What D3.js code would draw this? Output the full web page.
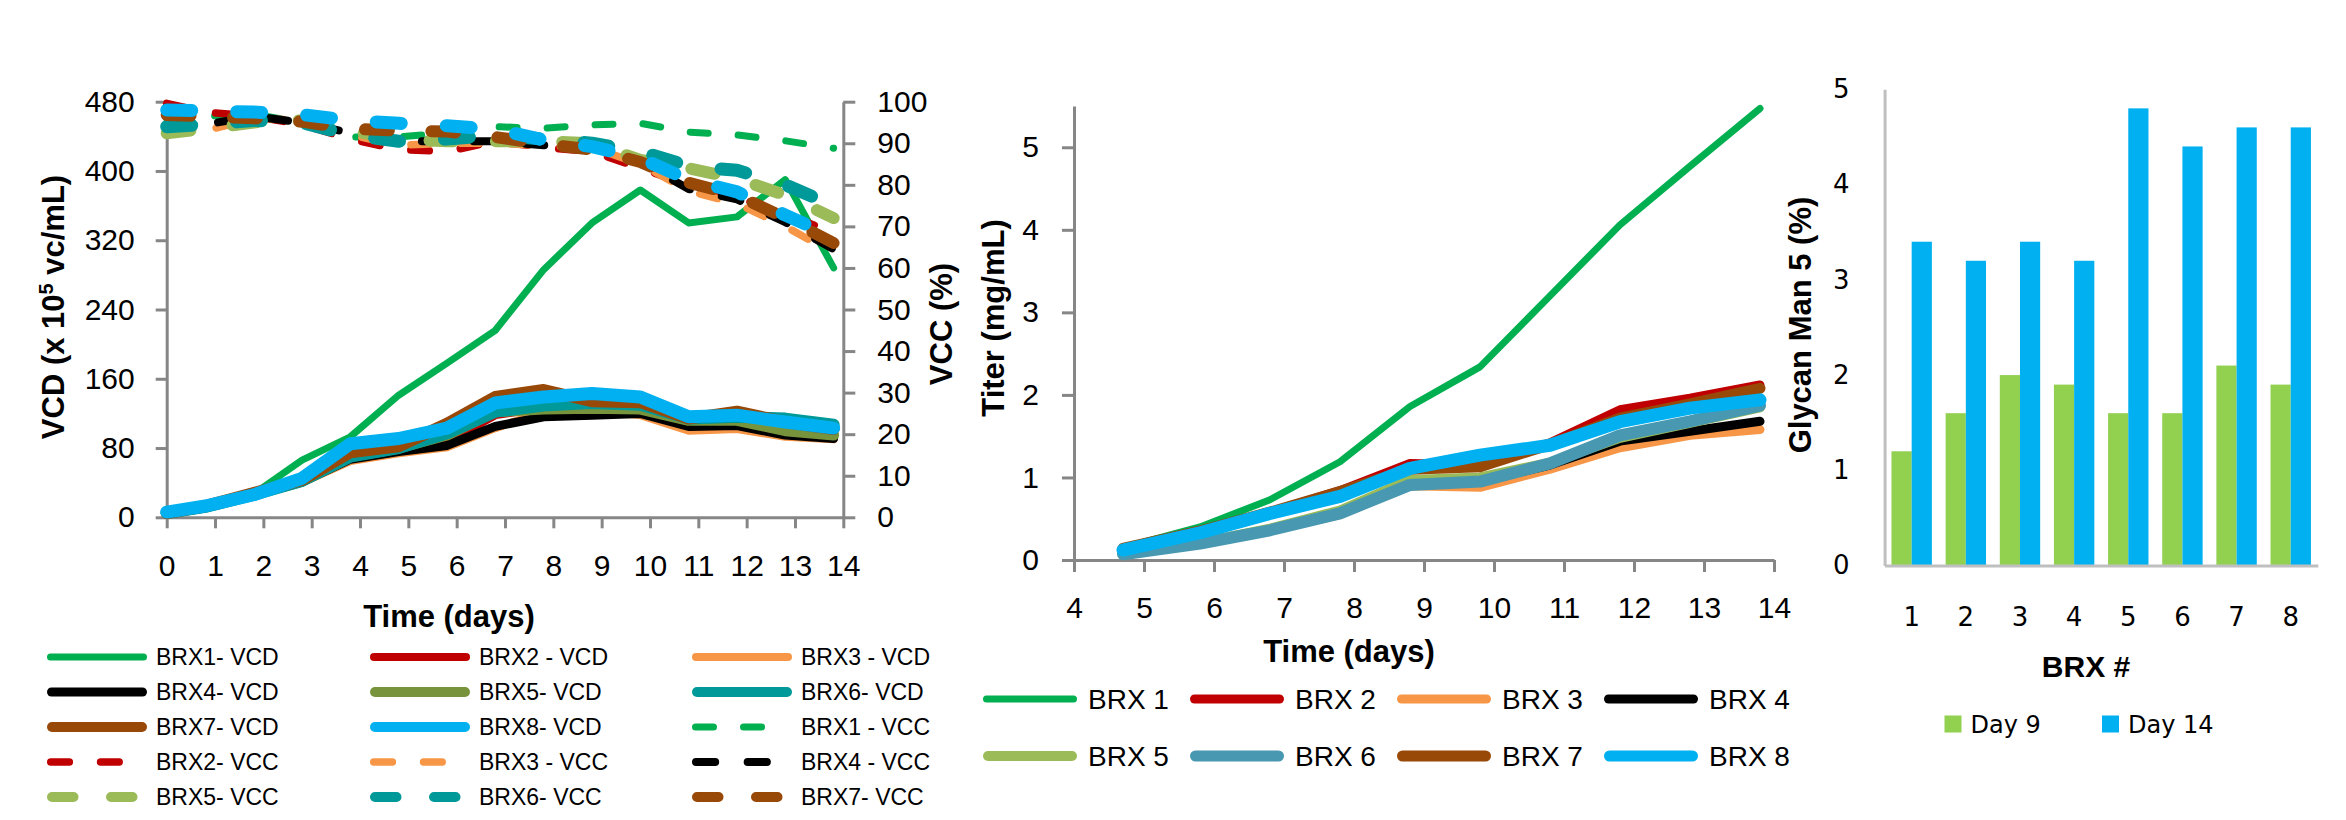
<!DOCTYPE html>
<html><head><meta charset="utf-8">
<script src="https://cdn.jsdelivr.net/npm/d3@7"></script>
<style>body{margin:0;background:#fff}svg{display:block}</style>
</head><body>
<svg id="c" width="2346" height="820"></svg>
<script>
// ---------- DATA ----------
const days = [0, 0.8, 1.8, 2.8, 3.8, 4.8, 5.8, 6.8, 7.8, 8.8, 9.8, 10.8, 11.8, 12.8, 13.8];
const vcd1 = [5, 12, 27, 66, 93, 141, 178, 216, 286, 340, 378, 340, 347, 390, 288];
const vcd2 = [5, 12, 26, 42, 70, 78, 87, 118, 126, 130, 130, 110, 116, 104, 99];
const vcd3 = [4, 11, 25, 40, 65, 74, 81, 103, 122, 122, 118, 100, 102, 93, 90];
const vcd4 = [4, 11, 25, 41, 67, 76, 83, 105, 116, 118, 120, 105, 106, 95, 91];
const vcd5 = [5, 12, 26, 42, 70, 80, 95, 122, 125, 126, 125, 112, 112, 100, 95];
const vcd6 = [5, 12, 26, 42, 70, 80, 97, 122, 129, 132, 130, 114, 116, 114, 107];
const vcd7 = [5, 13, 28, 43, 75, 82, 108, 139, 147, 134, 133, 114, 122, 110, 102];
const vcd8 = [6, 13, 26, 45, 85, 91, 103, 132, 139, 143, 139, 116, 118, 110, 103];
const vcc1 = [96, 96.5, 97, 95, 91.5, 91.5, 92.5, 94, 93.6, 94.4, 94.8, 92.7, 92, 90.6, 88.8];
const vcc2 = [99.6, 97.5, 96.5, 94.5, 91, 88.5, 88, 90.5, 89, 88, 84, 80, 77, 73, 68.5];
const vcc3 = [92.5, 93, 96, 95.5, 92, 89.5, 90, 90, 89.5, 89, 85, 78.5, 75.5, 70, 63.5];
const vcc4 = [93.5, 94.5, 96.5, 95, 92.5, 90.5, 90.5, 90.5, 89.5, 89, 85.5, 79, 76.5, 71, 64.5];
const vcc5 = [92.4, 93.5, 95, 95.5, 93, 91, 90.5, 90.5, 90.5, 90, 86, 84, 81.5, 77.5, 72];
const vcc6 = [94, 94.5, 95.5, 95, 92, 90.5, 91, 92, 91, 90, 88, 84.5, 83.5, 80, 75];
const vcc7 = [96.8, 96.5, 96, 95.2, 93.5, 93, 92.8, 91.5, 89.8, 88.5, 85.5, 80.5, 77.5, 72, 66];
const vcc8 = [98, 97.8, 97.5, 96.9, 95.5, 94.8, 94.2, 93.4, 90.8, 89.2, 86.4, 81.2, 78.3, 72.7, 67.5];
const vcdTicks = [0, 80, 160, 240, 320, 400, 480];
const vccTicks = [0, 10, 20, 30, 40, 50, 60, 70, 80, 90, 100];
const dayTicks = [0, 1, 2, 3, 4, 5, 6, 7, 8, 9, 10, 11, 12, 13, 14];
const vcdLegend = ["BRX1- VCD", "BRX2 - VCD", "BRX3 - VCD", "BRX4- VCD", "BRX5- VCD", "BRX6- VCD", "BRX7- VCD", "BRX8- VCD"];
const vccLegend = ["BRX1 - VCC", "BRX2- VCC", "BRX3 - VCC", "BRX4 - VCC", "BRX5- VCC", "BRX6- VCC", "BRX7- VCC"];

const titerDays = [4.7, 5.8, 6.8, 7.8, 8.8, 9.8, 10.8, 11.8, 12.8, 13.8];
const titer1 = [0.15, 0.40, 0.73, 1.19, 1.86, 2.34, 3.2, 4.06, 4.77, 5.47];
const titer2 = [0.14, 0.36, 0.58, 0.84, 1.17, 1.15, 1.42, 1.82, 1.96, 2.12];
const titer3 = [0.07, 0.19, 0.36, 0.55, 0.90, 0.88, 1.10, 1.36, 1.51, 1.58];
const titer4 = [0.07, 0.20, 0.37, 0.57, 0.92, 0.95, 1.15, 1.44, 1.56, 1.68];
const titer5 = [0.08, 0.21, 0.38, 0.60, 0.97, 1.00, 1.18, 1.48, 1.66, 1.85];
const titer6 = [0.07, 0.20, 0.36, 0.565, 0.91, 0.95, 1.17, 1.51, 1.68, 1.87];
const titer7 = [0.14, 0.35, 0.58, 0.83, 1.10, 1.13, 1.40, 1.72, 1.89, 2.08];
const titer8 = [0.12, 0.33, 0.565, 0.77, 1.11, 1.27, 1.39, 1.675, 1.84, 1.94];
const titerTicks = [0, 1, 2, 3, 4, 5];
const titerDayTicks = [4, 5, 6, 7, 8, 9, 10, 11, 12, 13, 14];
const titerLegend = ["BRX 1", "BRX 2", "BRX 3", "BRX 4", "BRX 5", "BRX 6", "BRX 7", "BRX 8"];

const brxCats = ["1", "2", "3", "4", "5", "6", "7", "8"];
const man5Day9 = [1.2, 1.6, 2.0, 1.9, 1.6, 1.6, 2.1, 1.9];
const man5Day14 = [3.4, 3.2, 3.4, 3.2, 4.8, 4.4, 4.6, 4.6];
const man5Ticks = [0, 1, 2, 3, 4, 5];
const barSeries = ["Day 9", "Day 14"];

// ---------- STYLE ----------
const FONT = "'Liberation Sans', Arial, sans-serif";
const FONT2 = "'DejaVu Sans', Verdana, sans-serif";
const AX = "#868686";
const vcdColors = ["#00B050", "#C00000", "#F79646", "#000000", "#77933C", "#009999", "#984807", "#00B0F0"];
const vccColors = ["#00B050", "#C00000", "#F79646", "#000000", "#9BBB59", "#009999", "#984807", "#00B0F0"];
const titerColors = ["#00B050", "#C00000", "#F79646", "#000000", "#9BBB59", "#4798B0", "#984807", "#00B0F0"];
const vcdW = [7, 8, 8, 9, 11, 12, 12, 13];
const vccW = [7, 7.5, 7.5, 8, 12, 13, 12, 13];
const titerW = [7, 9, 9, 9, 10, 12, 11, 13];
const dash = w => `${18 + (w - 7) * 1.17},${30 + (w - 7) * 2.5}`;
const fmtInt = d3.format("d");

const vcdData = [vcd1, vcd2, vcd3, vcd4, vcd5, vcd6, vcd7, vcd8];
const vccData = [vcc1, vcc2, vcc3, vcc4, vcc5, vcc6, vcc7, vcc8];
const titerData = [titer1, titer2, titer3, titer4, titer5, titer6, titer7, titer8];

const svg = d3.select("#c");

function styleAxis(g, color, fs, family) {
  g.select(".domain").attr("stroke", color).attr("stroke-width", 3);
  g.selectAll(".tick line").attr("stroke", color).attr("stroke-width", 3);
  g.selectAll(".tick text").attr("fill", "#000").attr("font-size", fs).attr("font-family", family);
}

// ---------- LEFT CHART ----------
const xL = d3.scaleLinear().domain([0, 14]).range([166.7, 843.3]);
const yL = d3.scaleLinear().domain([0, 480]).range([517.3, 101.7]);
const yR = d3.scaleLinear().domain([0, 100]).range([517.3, 101.7]);

svg.append("g").attr("transform", `translate(0,${yL(0)})`)
  .call(d3.axisBottom(xL).tickValues(dayTicks).tickFormat(fmtInt).tickSize(11).tickSizeOuter(0).tickPadding(26))
  .call(g => styleAxis(g, AX, 30, FONT));
svg.append("g").attr("transform", `translate(${xL(0)},0)`)
  .call(d3.axisLeft(yL).tickValues(vcdTicks).tickFormat(fmtInt).tickSize(11).tickSizeOuter(0).tickPadding(21))
  .call(g => styleAxis(g, AX, 30, FONT));
svg.append("g").attr("transform", `translate(${xL(14)},0)`)
  .call(d3.axisRight(yR).tickValues(vccTicks).tickFormat(fmtInt).tickSize(12).tickSizeOuter(0).tickPadding(22))
  .call(g => styleAxis(g, AX, 30, FONT));

const lineL = d3.line().x((d, i) => xL(days[i])).y(d => yL(d));
const lineR = d3.line().x((d, i) => xL(days[i])).y(d => yR(d));
vcdData.forEach((s, k) => {
  svg.append("path").attr("d", lineL(s)).attr("fill", "none").attr("stroke", vcdColors[k])
    .attr("stroke-width", vcdW[k]).attr("stroke-linejoin", "round").attr("stroke-linecap", "round");
});
vccData.forEach((s, k) => {
  svg.append("path").attr("d", lineR(s)).attr("fill", "none").attr("stroke", vccColors[k])
    .attr("stroke-width", vccW[k]).attr("stroke-linejoin", "round").attr("stroke-linecap", "round")
    .attr("stroke-dasharray", dash(vccW[k]));
});

// titles
const vcdTitle = svg.append("text").attr("transform", "translate(64,307) rotate(-90)")
  .attr("text-anchor", "middle").attr("font-family", FONT).attr("font-weight", "bold").attr("font-size", 31);
vcdTitle.append("tspan").text("VCD (x 10");
vcdTitle.append("tspan").text("5").attr("font-size", 20).attr("dy", -11);
vcdTitle.append("tspan").text(" vc/mL)").attr("dy", 11);
svg.append("text").attr("transform", "translate(952,324) rotate(-90)").attr("text-anchor", "middle")
  .attr("font-family", FONT).attr("font-weight", "bold").attr("font-size", 31).text("VCC (%)");
svg.append("text").attr("x", 449).attr("y", 627).attr("text-anchor", "middle")
  .attr("font-family", FONT).attr("font-weight", "bold").attr("font-size", 31).text("Time (days)");

// legend
const legItems = vcdLegend.map((t, k) => ({t, c: vcdColors[k], w: vcdW[k], dashed: false}))
  .concat(vccLegend.map((t, k) => ({t, c: vccColors[k], w: vccW[k], dashed: true})));
const legColX = [47, 370, 692];
const legRowY = [657, 692, 727, 762, 797];
legItems.forEach((it, i) => {
  const cx = legColX[i % 3], cy = legRowY[Math.floor(i / 3)];
  const w = Math.min(it.w, 10);
  svg.append("line").attr("x1", cx + w / 2).attr("x2", cx + 100 - w / 2).attr("y1", cy).attr("y2", cy)
    .attr("stroke", it.c).attr("stroke-width", w).attr("stroke-linecap", "round")
    .attr("stroke-dasharray", it.dashed ? dash(w) : null);
  svg.append("text").attr("x", cx + 109).attr("y", cy + 8).attr("font-family", FONT).attr("font-size", 23).text(it.t);
});

// ---------- MIDDLE CHART ----------
const xM = d3.scaleLinear().domain([4, 14]).range([1074, 1774]);
const yM = d3.scaleLinear().domain([0, 5.5]).range([560, 106]);
svg.append("g").attr("transform", `translate(0,${yM(0)})`)
  .call(d3.axisBottom(xM).tickValues(titerDayTicks).tickFormat(fmtInt).tickSize(12).tickSizeOuter(0).tickPadding(25))
  .call(g => styleAxis(g, AX, 30, FONT));
svg.append("g").attr("transform", `translate(${xM(4)},0)`)
  .call(d3.axisLeft(yM).tickValues(titerTicks).tickFormat(fmtInt).tickSize(12).tickSizeOuter(0).tickPadding(23))
  .call(g => styleAxis(g, AX, 30, FONT));
const lineM = d3.line().x((d, i) => xM(titerDays[i])).y(d => yM(d));
titerData.forEach((s, k) => {
  svg.append("path").attr("d", lineM(s)).attr("fill", "none").attr("stroke", titerColors[k])
    .attr("stroke-width", titerW[k]).attr("stroke-linejoin", "round").attr("stroke-linecap", "round");
});
svg.append("text").attr("transform", "translate(1004,318) rotate(-90)").attr("text-anchor", "middle")
  .attr("font-family", FONT).attr("font-weight", "bold").attr("font-size", 31).text("Titer (mg/mL)");
svg.append("text").attr("x", 1349).attr("y", 662).attr("text-anchor", "middle")
  .attr("font-family", FONT).attr("font-weight", "bold").attr("font-size", 31).text("Time (days)");
titerLegend.forEach((t, k) => {
  const cx = 983 + (k % 4) * 207, cy = [699, 756][Math.floor(k / 4)];
  const w = Math.min(titerW[k], 11);
  svg.append("line").attr("x1", cx + w / 2).attr("x2", cx + 94 - w / 2).attr("y1", cy).attr("y2", cy)
    .attr("stroke", titerColors[k]).attr("stroke-width", w).attr("stroke-linecap", "round");
  svg.append("text").attr("x", cx + 105).attr("y", cy + 10).attr("font-family", FONT).attr("font-size", 28).text(t);
});

// ---------- RIGHT CHART (bars) ----------
const yB = d3.scaleLinear().domain([0, 5]).range([565.6, 89.3]);
const x0 = d3.scaleBand().domain(brxCats).range([1884.6, 2317.8]).paddingInner(0.254).paddingOuter(0.127);
const x1 = d3.scaleBand().domain(barSeries).range([0, x0.bandwidth()]);
const barColors = ["#92D050", "#00B0F0"];
const barVals = [man5Day9, man5Day14];
barVals.forEach((vals, s) => {
  svg.append("g").selectAll("rect").data(vals).join("rect")
    .attr("x", (d, i) => x0(brxCats[i]) + x1(barSeries[s]))
    .attr("width", x1.bandwidth())
    .attr("y", d => yB(d)).attr("height", d => yB(0) - yB(d))
    .attr("fill", barColors[s]);
});
svg.append("g").attr("transform", `translate(0,${yB(0)})`)
  .call(d3.axisBottom(x0).tickSize(0).tickSizeOuter(0).tickPadding(42))
  .call(g => styleAxis(g, "#BFBFBF", 26, FONT2));
svg.append("g").attr("transform", `translate(${x0.range()[0]},0)`)
  .call(d3.axisLeft(yB).tickValues(man5Ticks).tickFormat(fmtInt).tickSize(0).tickSizeOuter(0).tickPadding(35))
  .call(g => styleAxis(g, "#BFBFBF", 26, FONT2));
svg.append("text").attr("transform", "translate(1811,325) rotate(-90)").attr("text-anchor", "middle")
  .attr("font-family", FONT).attr("font-weight", "bold").attr("font-size", 31).text("Glycan Man 5 (%)");
svg.append("text").attr("x", 2086).attr("y", 677).attr("text-anchor", "middle")
  .attr("font-family", FONT).attr("font-weight", "bold").attr("font-size", 30).text("BRX #");
const legBX = [1944.5, 2102];
barSeries.forEach((t, s) => {
  svg.append("rect").attr("x", legBX[s]).attr("y", 715.5).attr("width", 17).attr("height", 17).attr("fill", barColors[s]);
  svg.append("text").attr("x", legBX[s] + 26).attr("y", 733).attr("font-family", FONT2).attr("font-size", 24).text(t);
});
</script>
</body></html>
